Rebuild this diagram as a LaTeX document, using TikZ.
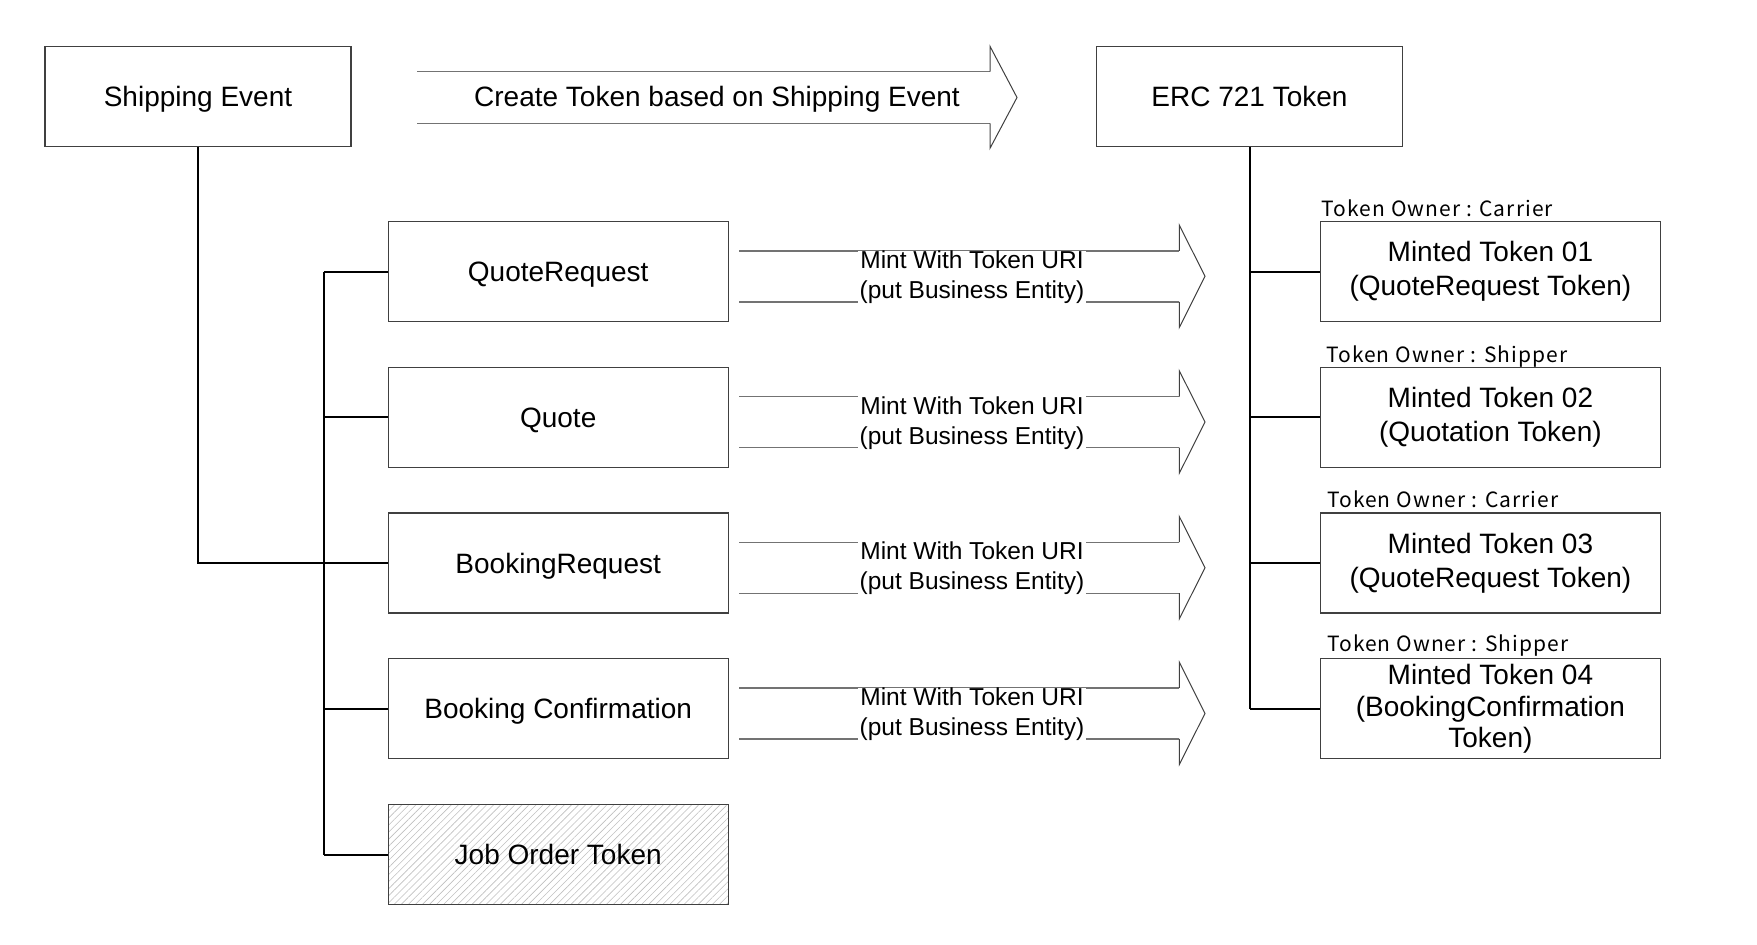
\documentclass[tikz,border=0pt]{standalone}
\usepackage{fontspec}
\setmainfont{Liberation Sans}
\newfontfamily\ownerfont[LetterSpace=5]{Noto Sans CJK KR}
\usetikzlibrary{patterns.meta}
\begin{document}
\begin{tikzpicture}[x=1pt,y=-1pt,
  box/.style={draw=black!75, line width=1.3pt, minimum width=340pt, minimum height=100pt,
    inner sep=0pt, font=\fontsize{28}{34}\selectfont, align=center},
  onel/.style={text height=20pt, text depth=0pt},
  topbox/.style={box, onel, minimum width=306pt},
  conn/.style={line width=2pt, black},
  owner/.style={font=\ownerfont\fontsize{21}{24}\selectfont, anchor=base west, inner sep=0pt},
  shaft/.style={line width=1.4pt, draw=black!55},
  head/.style={line width=1pt, draw=black!75},
  minttext/.style={fill=white, inner xsep=2pt, inner ysep=0pt, align=center,
    font=\fontsize{24.5}{30}\selectfont},
  hatched/.style={pattern={Lines[angle=45,distance=5pt,line width=0.6pt]}, pattern color=black!25}
]
\useasboundingbox (0,0) rectangle (1757,945);

% top row
\node[topbox] (ship) at (198,96.5) {Shipping Event};
\node[topbox] (erc) at (1249.5,96.5) {ERC 721 Token};

% big arrow
\draw[shaft] (417,71.7) -- (990,71.7);
\draw[shaft] (417,123.3) -- (990,123.3);
\draw[head] (990,71.7) -- (990,46.3) -- (1017,97.5) -- (990,148.3) -- (990,123.3);
\node[font=\fontsize{28}{33}\selectfont, inner sep=0pt, anchor=base] (create) at (717,106.5) {Create Token based on Shipping Event};

% middle boxes
\node[box, onel] (qr) at (558.2,271.7) {QuoteRequest};
\node[box, onel] (q)  at (558.2,417.4) {Quote};
\node[box, onel] (br) at (558.2,563.1) {BookingRequest};
\node[box, onel] (bc) at (558.2,708.8) {Booking Confirmation};
\node[box, onel, hatched] (jo) at (558.2,854.5) {Job Order Token};

% right boxes
\node[box] (m1) at (1490.4,271.7) {Minted Token 01\\(QuoteRequest Token)};
\node[box] (m2) at (1490.4,417.4) {Minted Token 02\\(Quotation Token)};
\node[box] (m3) at (1490.4,563.1) {Minted Token 03\\(QuoteRequest Token)};
\node[box, font=\fontsize{28}{31.5}\selectfont] (m4) at (1490.4,708.8) {Minted Token 04\\(BookingConfirmation\\Token)};

% owner labels
\node[owner] (o1) at (1321.5,216.5) {Token Owner : Carrier};
\node[owner] (o2) at (1326,362) {Token Owner : Shipper};
\node[owner] (o3) at (1327,507.5) {Token Owner : Carrier};
\node[owner] (o4) at (1327,651) {Token Owner : Shipper};

% left connectors
\coordinate (lb) at (323.8,0);
\draw[conn] (ship.south) |- (br.west);
\draw[conn] (qr.west -| lb) -- (jo.west -| lb);
\foreach \b in {qr,q,br,bc,jo} \draw[conn] (\b.west -| lb) -- (\b.west);

% right connectors
\draw[conn] (erc.south) -- (m4.west -| erc.south);
\foreach \b in {m1,m2,m3,m4} \draw[conn] (\b.west -| erc.south) -- (\b.west);

% mint arrows
\foreach \y/\n in {271.7/1,417.4/2,563.1/3,708.8/4} {
  \draw[shaft] (739.3,\y-20.9) -- (1179.3,\y-20.9);
  \draw[shaft] (739.3,\y+30.1) -- (1179.3,\y+30.1);
  \draw[head] (1179.3,\y-20.9) -- (1179.3,\y-46.6) -- (1205,\y+4.6) -- (1179.3,\y+55.8) -- (1179.3,\y+30.1);
  \node[minttext] (mint\n) at (972,\y+5.5) {Mint With Token URI\\(put Business Entity)};
}
\end{tikzpicture}
\end{document}
